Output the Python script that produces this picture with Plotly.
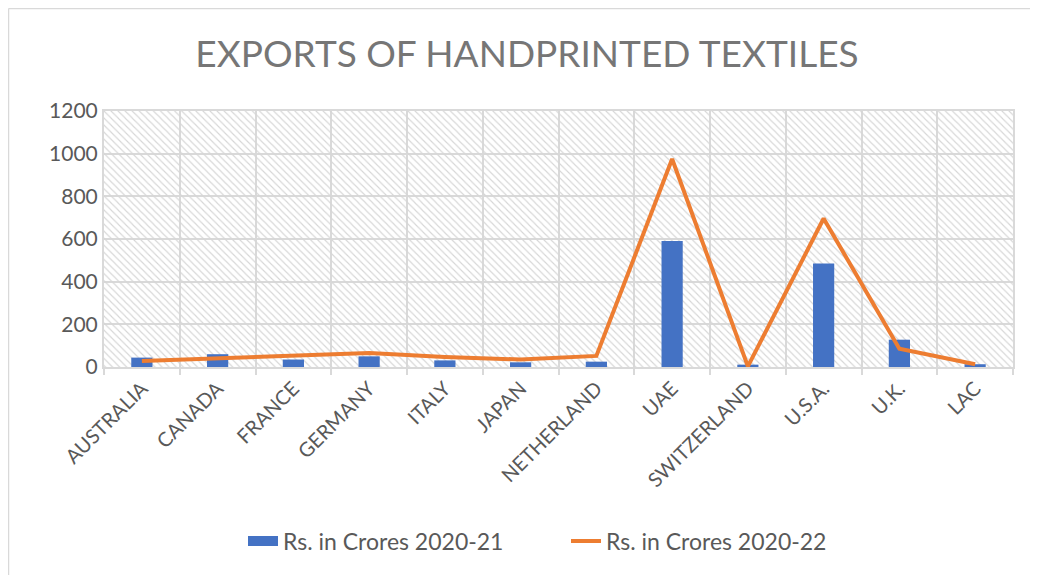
import plotly.graph_objects as go

countries = ["AUSTRALIA", "CANADA", "FRANCE", "GERMANY", "ITALY", "JAPAN",
             "NETHERLAND", "UAE", "SWITZERLAND", "U.S.A.", "U.K.", "LAC"]
exports_2020_21 = [44, 60, 35, 50, 31, 22, 25, 591, 11, 485, 128, 13]
exports_2020_22 = [28, 42, 55, 66, 47, 35, 52, 975, 3, 696, 86, 13]
y_max = 1200

# the page body adds an 8px margin, so work in figure pixels = page pixels - 8
OFF = 8
W, H = 1038 - OFF, 575 - OFF
L, T, R, B = 104 - OFF, 111 - OFF, 1013 - OFF, 367 - OFF

BLUE, ORANGE, GRID = "#4472c4", "#ed7d31", "#d9d9d9"
FONT = "Lato, Open Sans, sans-serif"


def px_x(page_x):
    return (page_x - OFF - L) / (R - L)


def px_y(page_y):
    return (B - (page_y - OFF)) / (B - T)


fig = go.Figure()

# hatched plot background, drawn as a full-width transparent bar per category
fig.add_trace(go.Bar(
    x=countries, y=[y_max] * len(countries), width=1,
    marker=dict(color="rgba(0,0,0,0)", line=dict(width=0),
                pattern=dict(shape="\\", fgcolor="#d6d6d6", bgcolor="rgba(0,0,0,0)",
                             size=5, solidity=0.22, fillmode="replace")),
    showlegend=False, hoverinfo="skip",
))
fig.add_trace(go.Bar(
    x=countries, y=exports_2020_21, width=0.28, name="Rs. in Crores 2020-21",
    marker=dict(color=BLUE, line=dict(width=0)), showlegend=False,
))
fig.add_trace(go.Scatter(
    x=countries, y=exports_2020_22, mode="lines", name="Rs. in Crores 2020-22",
    line=dict(color=ORANGE, width=4), showlegend=False,
))
# legend entries: wide blue block for the bars, thick orange line for the line
fig.add_trace(go.Scatter(x=[None], y=[None], mode="lines", name="Rs. in Crores 2020-21",
                         line=dict(color=BLUE, width=13), legend="legend"))
fig.add_trace(go.Scatter(x=[None], y=[None], mode="lines", name="Rs. in Crores 2020-22",
                         line=dict(color=ORANGE, width=4), legend="legend2"))

legend_font = dict(size=23, color="#595959")
fig.update_layout(
    width=W, height=H,
    barmode="overlay",
    paper_bgcolor="white", plot_bgcolor="white",
    margin=dict(l=L, r=W - R, t=T, b=H - B, autoexpand=False),
    title=dict(text="EXPORTS OF HANDPRINTED TEXTILES", x=(527 - OFF) / W, xanchor="center",
               y=1 - (54 - OFF) / H, yanchor="middle",
               font=dict(family=FONT, size=37, color="#767676")),
    font=dict(family=FONT, color="#595959"),
    legend=dict(orientation="h", x=px_x(243), xanchor="left", y=px_y(541),
                yanchor="middle", font=legend_font),
    legend2=dict(orientation="h", x=px_x(566), xanchor="left", y=px_y(541),
                 yanchor="middle", font=legend_font),
    xaxis=dict(tickson="boundaries", showgrid=True, gridcolor=GRID, gridwidth=2,
               ticks="outside", ticklen=6, tickcolor=GRID, tickwidth=2,
               tickangle=-45, tickfont=dict(size=20, color="#595959"),
               showline=True, linecolor=GRID, linewidth=2, mirror=True,
               range=[-0.5, len(countries) - 0.5]),
    yaxis=dict(range=[0, y_max], dtick=200, showgrid=True, gridcolor=GRID, gridwidth=2,
               tickfont=dict(size=21, color="#595959"), ticks="", zeroline=False,
               showline=True, linecolor=GRID, linewidth=2, mirror=True),
    shapes=[
        # outer chart border (only top and left are inside the picture)
        dict(type="line", xref="paper", yref="paper",
             x0=(0.5 - L) / (R - L), x1=(W + 5 - L) / (R - L),
             y0=(B - 0.5) / (B - T), y1=(B - 0.5) / (B - T),
             line=dict(color=GRID, width=1.5)),
        dict(type="line", xref="paper", yref="paper",
             x0=(0.5 - L) / (R - L), x1=(0.5 - L) / (R - L),
             y0=(B - 0.5) / (B - T), y1=(B - H - 5) / (B - T),
             line=dict(color=GRID, width=1.5)),
    ],
)

fig.write_html("out.html")
